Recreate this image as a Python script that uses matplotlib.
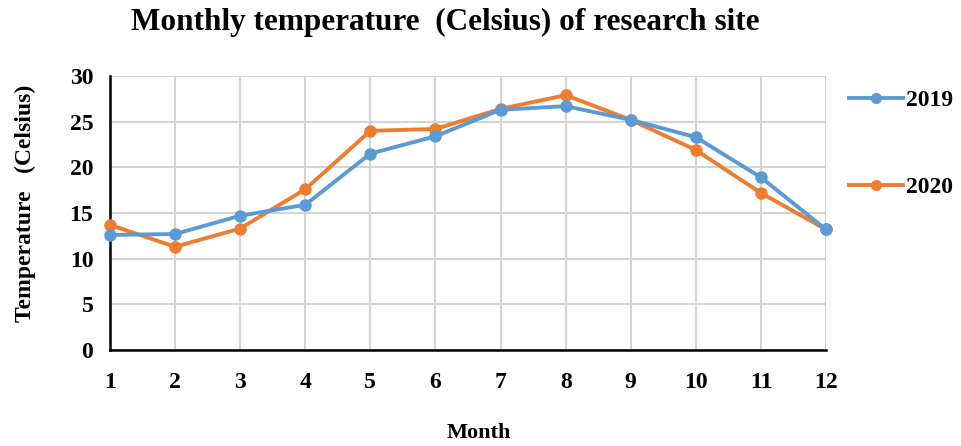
import matplotlib.pyplot as plt

# monthly temperature data
months = [1, 2, 3, 4, 5, 6, 7, 8, 9, 10, 11, 12]
temp_2019 = [12.6, 12.7, 14.7, 15.9, 21.5, 23.4, 26.3, 26.7, 25.2, 23.3, 18.9, 13.2]
temp_2020 = [13.7, 11.3, 13.3, 17.6, 24.0, 24.2, 26.4, 27.9, 25.2, 21.9, 17.2, 13.2]
series_labels = ['2019', '2020']

plt.rcParams['font.family'] = ['Liberation Serif', 'DejaVu Serif']
plt.rcParams['font.weight'] = 'bold'

W, H = 961, 446
fig = plt.figure(figsize=(W / 100, H / 100), dpi=100)
ax = fig.add_axes([110 / W, 1 - 350 / H, 716 / W, 274 / H])

blue = '#5b9bd5'
orange = '#ed7d31'
l1, = ax.plot(months, temp_2019, '-o', color=blue, linewidth=2.8, markersize=8,
              zorder=4, clip_on=False)
l2, = ax.plot(months, temp_2020, '-o', color=orange, linewidth=2.8, markersize=8,
              zorder=3, clip_on=False)

ax.set_xlim(1, 12)
ax.set_ylim(0, 30)
ax.set_xticks(months)
ax.set_yticks(range(0, 31, 5))
ax.grid(True, color='#d4d4d4', linewidth=1.5)
ax.set_axisbelow(True)
for s in ['top', 'right']:
    ax.spines[s].set_visible(False)
for s in ['left', 'bottom']:
    ax.spines[s].set_linewidth(1.8)
    ax.spines[s].set_color('black')
ax.tick_params(length=0, labelsize=17)
ax.tick_params(axis='x', pad=16)
ax.tick_params(axis='y', pad=12)

fig.text(445 / W, 1 - 22 / H, 'Monthly temperature  (Celsius) of research site',
         ha='center', va='center', fontsize=22.5, fontweight='bold')
fig.text(479 / W, 1 - 433 / H, 'Month', ha='center', va='center',
         fontsize=16, fontweight='bold')
fig.text(25 / W, 1 - 203 / H, 'Temperature   (Celsius)', ha='center', va='center',
         rotation=90, fontsize=17, fontweight='bold')

# legend entries stacked on the right side
leg1 = fig.legend([l1], [series_labels[0]], loc='center left',
                  bbox_to_anchor=(849 / W, 1 - 100 / H), frameon=False,
                  borderpad=0, borderaxespad=0,
                  fontsize=17, handlelength=2.3, handletextpad=0.1)
leg2 = fig.legend([l2], [series_labels[1]], loc='center left',
                  bbox_to_anchor=(849 / W, 1 - 187 / H), frameon=False,
                  borderpad=0, borderaxespad=0,
                  fontsize=17, handlelength=2.3, handletextpad=0.1)
for lg in (leg1, leg2):
    for h in lg.legend_handles:
        h.set_markersize(7)

fig.savefig('out.png', dpi=100)
